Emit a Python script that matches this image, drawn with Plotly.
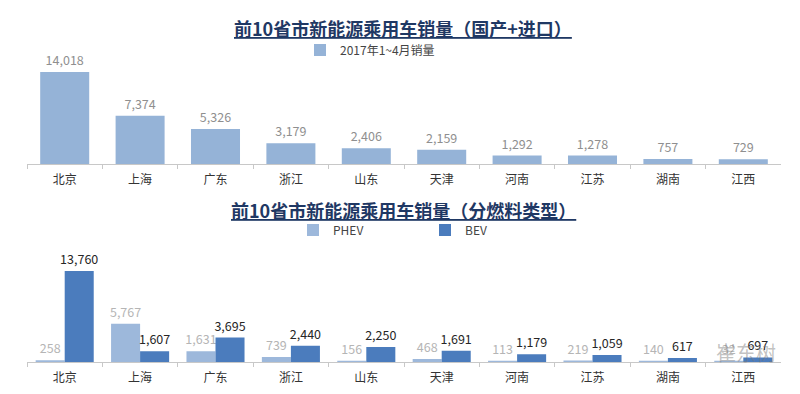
import plotly.graph_objects as go

provinces = ["北京", "上海", "广东", "浙江", "山东", "天津", "河南", "江苏", "湖南", "江西"]
total_sales = [14018, 7374, 5326, 3179, 2406, 2159, 1292, 1278, 757, 729]
phev_sales = [258, 5767, 1631, 739, 156, 468, 113, 219, 140, 32]
bev_sales = [13760, 1607, 3695, 2440, 2250, 1691, 1179, 1059, 617, 697]

title_top = "前10省市新能源乘用车销量（国产+进口）"
title_bottom = "前10省市新能源乘用车销量（分燃料类型）"
legend_top = "2017年1~4月销量"
watermark = "崔东树"

FONT = "Noto Sans CJK SC, Noto Sans, sans-serif"
W, H = 800, 394

fig = go.Figure()

fig.add_trace(go.Bar(
    x=provinces, y=total_sales, name=legend_top,
    marker=dict(color="#95B3D7", line=dict(width=0)),
    width=0.65, offset=-0.325,
    text=[f"{v:,}" for v in total_sales], textposition="outside",
    textfont=dict(color="#8f8f8f", size=12.5, family=FONT),
    constraintext="none",
    cliponaxis=False, xaxis="x", yaxis="y", legend="legend",
))
fig.add_trace(go.Bar(
    x=provinces, y=phev_sales, name="PHEV",
    marker=dict(color="#9DB8DB", line=dict(width=0)),
    width=0.385, offset=-0.385,
    text=[f"{v:,}" for v in phev_sales], textposition="outside",
    textfont=dict(color="#b5b5b5", size=12.5, family=FONT),
    constraintext="none",
    cliponaxis=False, xaxis="x2", yaxis="y2", legend="legend2",
))
fig.add_trace(go.Bar(
    x=provinces, y=bev_sales, name="BEV",
    marker=dict(color="#4B7CBD", line=dict(width=0)),
    width=0.385, offset=0.0,
    text=[f"{v:,}" for v in bev_sales], textposition="outside",
    textfont=dict(color="#262626", size=12.5, family=FONT),
    constraintext="none",
    cliponaxis=False, xaxis="x2", yaxis="y2", legend="legend2",
))

def py(px):
    return (H - px) / H

xaxis_common = dict(
    type="category", tickson="boundaries", ticks="outside", ticklen=4,
    tickcolor="#c8c8c8", showline=True, linecolor="#c8c8c8", linewidth=1,
    showgrid=False, zeroline=False, fixedrange=True, ticklabelstandoff=5,
    tickfont=dict(size=12, color="#333333", family=FONT),
    domain=[27 / W, 781 / W],
)
yaxis_common = dict(visible=False, range=[0, 15000], fixedrange=True, showgrid=False)

fig.update_layout(
    width=W, height=H,
    margin=dict(l=0, r=0, t=0, b=0, autoexpand=False),
    paper_bgcolor="white", plot_bgcolor="white",
    font=dict(family=FONT),
    barmode="overlay",
    showlegend=True,
    hovermode=False,
    xaxis=dict(**xaxis_common, anchor="y"),
    yaxis=dict(**yaxis_common, domain=[py(164), py(65.6)], anchor="x"),
    xaxis2=dict(**xaxis_common, anchor="y2"),
    yaxis2=dict(**yaxis_common, domain=[py(362), py(262.8)], anchor="x2"),
    legend=dict(
        orientation="h", x=300 / W, xanchor="left", y=py(50), yanchor="middle",
        font=dict(size=12, color="#444444", family=FONT),
        bgcolor="rgba(0,0,0,0)", itemwidth=30,
    ),
    legend2=dict(
        orientation="h", x=293 / W, xanchor="left", y=py(230), yanchor="middle",
        font=dict(size=12, color="#444444", family=FONT),
        bgcolor="rgba(0,0,0,0)", entrywidth=87, entrywidthmode="pixels",
        itemwidth=30,
    ),
)

fig.add_annotation(
    text=f"<b>{title_top}</b>", xref="paper", yref="paper",
    x=403 / W, y=py(28), xanchor="center", yanchor="middle", showarrow=False,
    font=dict(size=18, color="#1F3864", family=FONT, lineposition="under"),
)
fig.add_annotation(
    text=f"<b>{title_bottom}</b>", xref="paper", yref="paper",
    x=403 / W, y=py(210), xanchor="center", yanchor="middle", showarrow=False,
    font=dict(size=18, color="#1F3864", family=FONT, lineposition="under"),
)
fig.add_annotation(
    text=watermark, xref="paper", yref="paper",
    x=746 / W, y=py(352), xanchor="center", yanchor="middle", showarrow=False,
    font=dict(size=20, color="rgba(120,120,120,0.45)", family=FONT),
)

fig.write_html(
    "out.html",
    config={"displayModeBar": False},
    post_script="document.body.style.margin='0';document.body.style.overflow='hidden';",
)
